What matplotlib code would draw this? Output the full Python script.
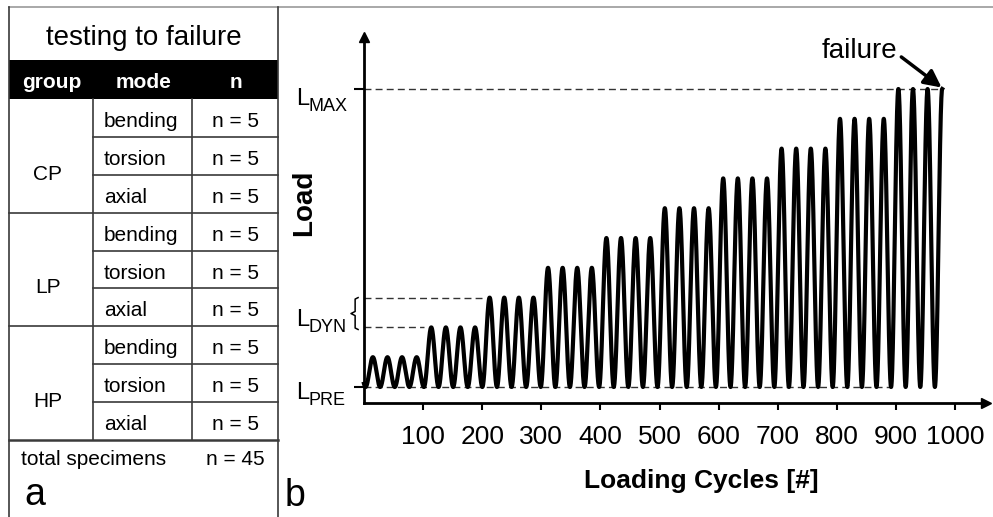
import numpy as np
import matplotlib.pyplot as plt
from matplotlib.patches import Rectangle

plt.rcParams['font.family'] = ['Liberation Sans', 'DejaVu Sans']

# ---- panel a: table ----
table_title = 'testing to failure'
header = ['group', 'mode', 'n']
groups = ['CP', 'LP', 'HP']
modes = ['bending', 'torsion', 'axial']
n_per_mode = [5, 5, 5]
total_label = 'total specimens'
total_n = 45

# ---- panel b: stepwise loading protocol ----
load_levels = [1, 2, 3, 4, 5, 6, 7, 8, 9, 10]   # peak load of each block (L_PRE = 0)
cycles_per_block = 4
cycle_period = 24.7      # loading cycles per drawn wave
first_peak = 15.0
x_ticks = [100, 200, 300, 400, 500, 600, 700, 800, 900, 1000]

W, H = 993, 517
fig = plt.figure(figsize=(W / 100, H / 100), dpi=100)

# overlay in pixel coordinates for the table and labels
ov = fig.add_axes([0, 0, 1, 1])
ov.set_xlim(0, W)
ov.set_ylim(H, 0)
ov.axis('off')

line_c = '#3a3a3a'
col_x = [9, 93, 192, 278]
head_top, head_bot = 60, 99
total_top = 440
n_rows = len(groups) * len(modes)
row_h = (total_top - head_bot) / n_rows

ov.plot([col_x[0], W], [7, 7], color='#999999', lw=1.2)
ov.plot([col_x[0], col_x[0]], [7, H], color=line_c, lw=1.2)
ov.plot([col_x[3], col_x[3]], [7, H], color=line_c, lw=1.2)
ov.add_patch(Rectangle((col_x[0], head_top), col_x[3] - col_x[0], head_bot - head_top,
                       color='black', lw=0))
ov.text((col_x[0] + col_x[3]) / 2, 45, table_title, fontsize=20, ha='center', va='baseline')
for i, h in enumerate(header):
    ov.text((col_x[i] + col_x[i + 1]) / 2 + 1, 88, h, fontsize=15, fontweight='bold',
            color='white', ha='center', va='baseline')

ov.plot([col_x[1], col_x[1]], [head_bot, total_top], color=line_c, lw=1.2)
ov.plot([col_x[2], col_x[2]], [head_bot, total_top], color=line_c, lw=1.2)
for g, grp in enumerate(groups):
    g_top = head_bot + g * len(modes) * row_h
    ov.text(col_x[0] + 39, g_top + 2 * row_h + 5, grp, fontsize=15, ha='center', va='baseline')
    for m, mode in enumerate(modes):
        r_top = g_top + m * row_h
        ov.text(col_x[1] + 11, r_top + 28, mode, fontsize=15, ha='left', va='baseline')
        ov.text((col_x[2] + col_x[3]) / 2 + 1, r_top + 28, f'n = {n_per_mode[m]}', fontsize=15,
                ha='center', va='baseline')
        if m > 0:
            ov.plot([col_x[1], col_x[3]], [r_top, r_top], color=line_c, lw=1.2)
    if g > 0:
        ov.plot([col_x[0], col_x[3]], [g_top, g_top], color=line_c, lw=1.2)
ov.plot([col_x[0], col_x[3]], [total_top, total_top], color=line_c, lw=1.8)
ov.text(21, 465, total_label, fontsize=15, ha='left', va='baseline')
ov.text(265, 465, f'n = {total_n}', fontsize=15, ha='right', va='baseline')
ov.text(24, 505, 'a', fontsize=27, ha='left', va='baseline')
ov.text(285, 506, 'b', fontsize=27, ha='left', va='baseline')

# ---- chart axes ----
px_per_cycle = 0.591
px_per_unit = 29.8
y0_px, x0_px = 387, 364
ax_right, ax_top, ax_bot = 986, 37, 403
ax = fig.add_axes([x0_px / W, (H - ax_bot) / H, (ax_right - x0_px) / W, (ax_bot - ax_top) / H])
ax.set_facecolor('none')
ax.set_xlim(0, (ax_right - x0_px) / px_per_cycle)
ax.set_ylim(-(ax_bot - y0_px) / px_per_unit, (y0_px - ax_top) / px_per_unit)
for s in ['top', 'right']:
    ax.spines[s].set_visible(False)
for s in ['left', 'bottom']:
    ax.spines[s].set_linewidth(2)
ax.plot(1, 0, '>', color='k', ms=7, transform=ax.transAxes, clip_on=False)
ax.plot(0, 1, '^', color='k', ms=7, transform=ax.transAxes, clip_on=False)

ax.set_xticks(x_ticks)
ax.set_xticklabels([str(v) for v in x_ticks], fontsize=19)
ax.tick_params(axis='x', length=5, width=1.5, pad=11)
ax.set_yticks([0, load_levels[-1]])
ax.set_yticklabels([])
ax.tick_params(axis='y', length=7, width=1.5)

# waveform
trough0 = first_peak - cycle_period / 2
n_waves = len(load_levels) * cycles_per_block
t_end = trough0 + (n_waves - 0.5) * cycle_period
t = np.linspace(0, t_end, 5000)
k = np.clip(np.floor((t - trough0) / cycle_period), 0, n_waves - 1).astype(int)
amp = np.array(load_levels)[k // cycles_per_block]
load = amp * (1 - np.cos(2 * np.pi * (t - trough0) / cycle_period)) / 2
ax.plot(t, load, color='k', lw=3, zorder=3, clip_on=False)

def block_start(b):
    return trough0 + b * cycles_per_block * cycle_period

dash = dict(color='#333333', lw=1, ls=(0, (5, 3)), zorder=2)
ax.plot([0, t_end], [load_levels[-1]] * 2, **dash)
ax.plot([0, block_start(2)], [load_levels[2]] * 2, **dash)
ax.plot([0, block_start(1)], [load_levels[1]] * 2, **dash)
ax.plot([0, block_start(len(load_levels) - 1)], [0, 0], **dash)

# L_DYN brace
ytop, ybot = load_levels[2], load_levels[1] - 0.07
ymid = (ytop + ybot) / 2
bx = np.array([-10, -15, -15, -22, -15, -15, -10])
by = np.array([ytop, ytop - 0.05, ymid + 0.07, ymid, ymid - 0.07, ybot + 0.05, ybot])
ax.plot(bx, by, color='k', lw=1.1, clip_on=False)

# failure arrow
ax.annotate('', xy=(t_end - 1, load_levels[-1] + 0.05), xytext=(-29, 22),
            textcoords='offset points',
            arrowprops=dict(arrowstyle='-|>', color='k', lw=2.5, mutation_scale=26,
                            shrinkA=0, shrinkB=0))

# labels in pixel coordinates
ov.text(822, 58, 'failure', fontsize=20, ha='left', va='baseline')
ov.text(304, 203, 'Load', fontsize=20, fontweight='bold', rotation=90, ha='center', va='center')
ov.text(701, 488, 'Loading Cycles [#]', fontsize=19, fontweight='bold', ha='center', va='baseline')
for sub, base in [('MAX', 105), ('DYN', 326), ('PRE', 399)]:
    ov.text(296, base, 'L', fontsize=17, ha='left', va='baseline')
    ov.text(309, base + 6, sub, fontsize=13, ha='left', va='baseline')

fig.savefig('out.png', dpi=100)
